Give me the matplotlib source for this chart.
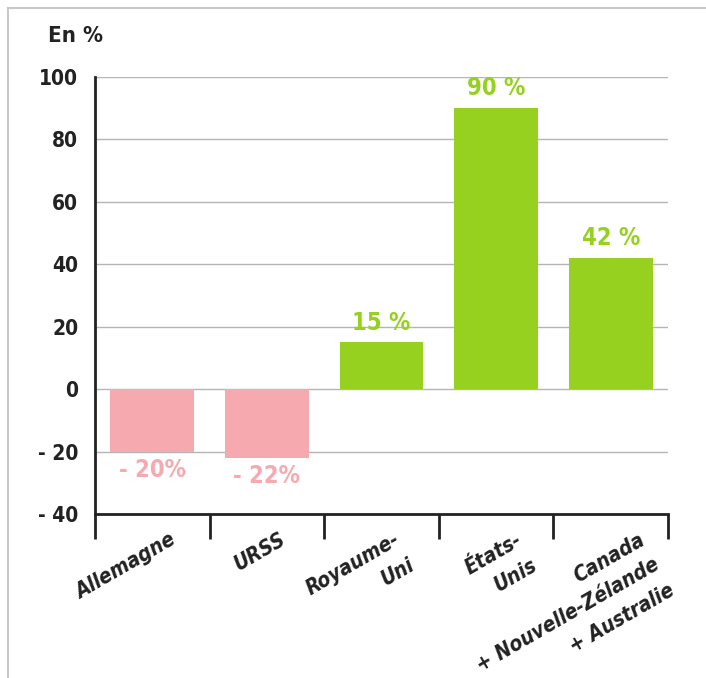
import numpy as np
import matplotlib.pyplot as plt
from matplotlib.lines import Line2D
from matplotlib.transforms import offset_copy

pays = ['Allemagne', 'URSS', 'Royaume-\nUni', 'États-\nUnis',
        'Canada\n+ Nouvelle-Zélande\n+ Australie']
valeurs = [-20, -22, 15, 90, 42]
etiquettes = ['- 20%', '- 22%', '15 %', '90 %', '42 %']
yticks = [-40, -20, 0, 20, 40, 60, 80, 100]
ytick_labels = ['- 40', '- 20', '0', '20', '40', '60', '80', '100']

vert = '#97d120'
rose = '#f7a9b0'
plt.rcParams['font.family'] = ['DejaVu Sans']
plt.rcParams['font.stretch'] = 'condensed'

fig = plt.figure(figsize=(7.06, 6.78), dpi=100)
ax = fig.add_axes([95/706, 1-514/678, (668-95)/706, (514-77)/678])

x = np.arange(len(pays))
couleurs = [vert if v > 0 else rose for v in valeurs]
ax.set_axisbelow(True)
ax.bar(x, valeurs, width=0.73, color=couleurs, zorder=3)

for xi, v, t, c in zip(x, valeurs, etiquettes, couleurs):
    if v > 0:
        ax.text(xi, v + 2.5, t, ha='center', va='bottom', color=c,
                fontsize=17, fontweight='bold')
    else:
        ax.text(xi, v - 2, t, ha='center', va='top', color=c,
                fontsize=17, fontweight='bold')

ax.set_xlim(-0.5, len(pays) - 0.5)
ax.set_ylim(-40, 100)
ax.set_yticks(yticks)
ax.set_yticklabels(ytick_labels, fontsize=15, fontweight='bold', color='#222222')
ax.tick_params(axis='y', length=0, pad=12)
for y in yticks[1:]:
    ax.axhline(y, color='#b5b5b5', lw=1, zorder=1)

# ticks between categories, labels placed by hand (one text per line)
ax.set_xticks(np.arange(-0.5, len(pays)), minor=False)
ax.set_xticklabels([])
ax.tick_params(axis='x', length=18, width=2, color='#222222', direction='out')
decalage = [0.15, 0.11, 0.10, 0.17, 0.24]
angle = 30
pas = 21  # points between lines
for xi, nom, d in zip(x, pays, decalage):
    for i, ligne in enumerate(nom.split('\n')):
        dx = i * pas * np.sin(np.radians(angle))
        dy = -i * pas * np.cos(np.radians(angle))
        tr = offset_copy(ax.transData, fig=fig, x=dx, y=dy, units='points')
        ax.text(xi + d, -45, ligne, rotation=angle, ha='right', va='top',
                fontsize=15, fontweight='bold', style='italic',
                color='#222222', rotation_mode='anchor', transform=tr,
                clip_on=False)

for s in ['top', 'right']:
    ax.spines[s].set_visible(False)
for s in ['left', 'bottom']:
    ax.spines[s].set_linewidth(2)
    ax.spines[s].set_color('#222222')

fig.text(48/706, 1-36/678, 'En %', fontsize=16, fontweight='bold',
         color='#222222', va='center')

fig.add_artist(Line2D([8/706, 8/706], [0, 1-8/678], color='#c8c8c8', lw=1.5))
fig.add_artist(Line2D([8/706, 1], [1-8/678, 1-8/678], color='#c8c8c8', lw=1.5))

fig.savefig('out.png', dpi=100)
